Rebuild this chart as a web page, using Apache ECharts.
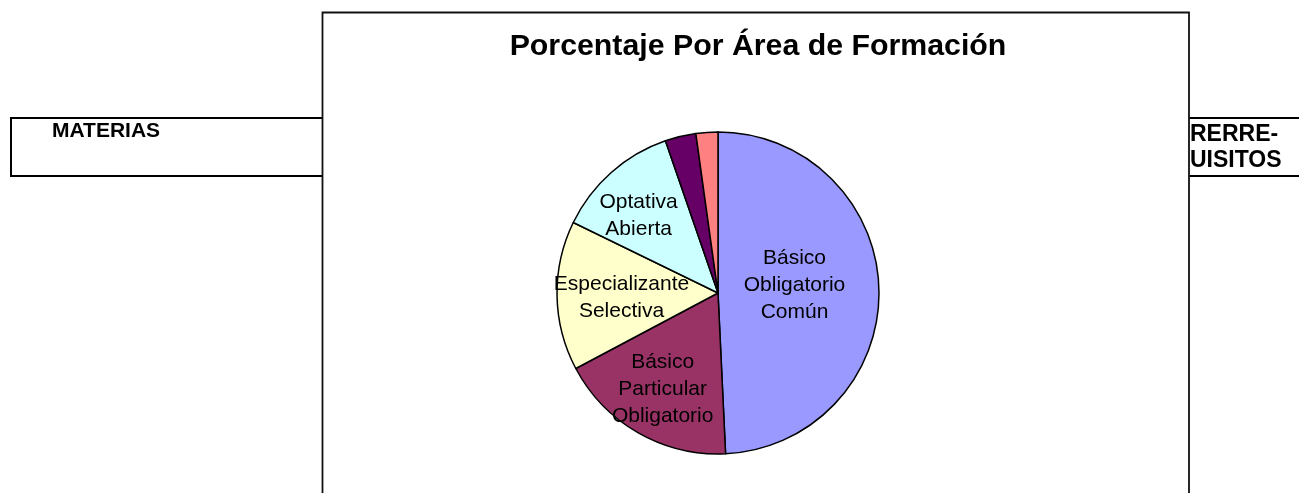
<!DOCTYPE html>
<html>
<head>
<meta charset="utf-8">
<script src="https://cdn.jsdelivr.net/npm/echarts@6/dist/echarts.min.js"></script>
<style>
html,body{margin:0;padding:0;background:#fff;}
#c{width:1299px;height:493px;}
</style>
</head>
<body>
<div id="c"></div>
<script>
// ---- data ----
var chartTitle = 'Porcentaje Por Área de Formación';
var categories = ['Básico Obligatorio Común', 'Básico Particular Obligatorio', 'Especializante Selectiva', 'Optativa Abierta', 'Otra A', 'Otra B'];
var values = [49.3, 18.0, 15.0, 12.5, 3.1, 2.2];
var showLabel = [true, true, true, true, false, false];
var tableLeftText = 'MATERIAS';
var tableRightText = ['RERRE-', 'UISITOS'];

// ---- styles ----
var colors = ['#9999FF', '#993366', '#FFFFCC', '#CCFFFF', '#660066', '#FF8080'];
var labelOffsets = [[-7, -6], [-14, 24], [-13, 3], [-24, -15], [0, 0], [0, 0]];

var chart = echarts.init(document.getElementById('c'), null, {renderer: 'canvas'});
var FONT = 'Liberation Sans, Arial, sans-serif';

var data = categories.map(function (n, i) {
  return {
    name: n,
    value: values[i],
    itemStyle: {color: colors[i]},
    label: {show: showLabel[i]}
  };
});

chart.setOption({
  animation: false,
  backgroundColor: '#fff',
  title: {
    text: chartTitle,
    left: 753,
    top: 27,
    textAlign: 'center',
    textStyle: {fontFamily: FONT, fontSize: 30.3, fontWeight: 'bold', color: '#000'}
  },
  graphic: [
    {type: 'line', z: -10, shape: {x1: 10, y1: 118, x2: 1299, y2: 118}, style: {stroke: '#000', lineWidth: 2}},
    {type: 'line', z: -10, shape: {x1: 10, y1: 176, x2: 1299, y2: 176}, style: {stroke: '#000', lineWidth: 2}},
    {type: 'line', z: -10, shape: {x1: 11, y1: 117, x2: 11, y2: 177}, style: {stroke: '#000', lineWidth: 2}},
    {type: 'text', z: -10, x: 52, y: 131.5, style: {text: tableLeftText, font: 'bold 21px ' + FONT, fill: '#000', textVerticalAlign: 'middle'}},
    {type: 'text', z: -10, x: 1190, y: 135, style: {text: tableRightText[0], font: 'bold 23px ' + FONT, fill: '#000', textVerticalAlign: 'middle'}},
    {type: 'text', z: -10, x: 1190, y: 161, style: {text: tableRightText[1], font: 'bold 23px ' + FONT, fill: '#000', textVerticalAlign: 'middle'}},
    {type: 'rect', z: -5, shape: {x: 322.5, y: 12.5, width: 866.5, height: 520}, style: {fill: '#fff', stroke: '#111', lineWidth: 1.8}}
  ],
  series: [{
    type: 'pie',
    center: [718, 293],
    radius: 161,
    startAngle: 90,
    clockwise: true,
    avoidLabelOverlap: false,
    silent: true,
    data: data,
    itemStyle: {borderColor: '#000', borderWidth: 1.5},
    label: {
      position: 'inside',
      fontFamily: FONT,
      fontSize: 21,
      lineHeight: 27,
      color: '#000',
      align: 'center',
      formatter: function (p) { return p.name.split(' ').join('\n'); }
    },
    labelLine: {show: false},
    labelLayout: function (p) {
      var o = labelOffsets[p.dataIndex] || [0, 0];
      return {dx: o[0], dy: o[1]};
    },
    emphasis: {disabled: true}
  }]
});
</script>
</body>
</html>
